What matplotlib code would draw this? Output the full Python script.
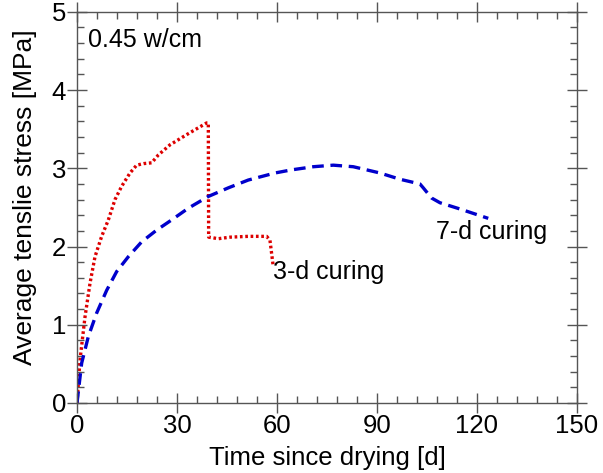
"""Average tensile stress vs. time since drying, 3-d and 7-d curing."""

import matplotlib
matplotlib.use("Agg")
import matplotlib.pyplot as plt
from matplotlib.ticker import MultipleLocator

plt.rcParams["font.family"] = ["Liberation Sans", "DejaVu Sans"]

# ---- data -----------------------------------------------------------
days_3d = [0, 0.4, 0.9, 2.4, 3.9, 5.4, 7.4, 9.4, 11.4, 13.4, 15.9, 17.9,
           20.0, 22.4, 24.4, 27.9, 32.9, 36.9, 38.9, 39.4, 39.5,
           42.4, 46.0, 51.4, 56.9, 57.9, 58.9]
stress_3d = [0.0, 0.25, 0.55, 1.10, 1.53, 1.87, 2.13, 2.34, 2.60, 2.77,
             2.94, 3.04, 3.06, 3.07, 3.17, 3.30, 3.43, 3.53, 3.58, 3.58,
             2.12, 2.10, 2.12, 2.13, 2.13, 2.08, 1.74]

days_7d = [0, 1.4, 3.4, 5.9, 8.9, 11.9, 15.4, 19.4, 23.9, 28.4, 33.4,
           39.4, 45.4, 51.4, 59.4, 64.4, 70.9, 76.9, 82.9, 90.9, 96.9,
           102.9, 103.9, 106.4, 108.9, 114.9, 123.4]
stress_7d = [0.0, 0.51, 0.85, 1.15, 1.44, 1.68, 1.87, 2.06, 2.21, 2.34,
             2.49, 2.64, 2.75, 2.85, 2.94, 2.98, 3.02, 3.04, 3.02, 2.94,
             2.86, 2.80, 2.75, 2.62, 2.56, 2.48, 2.36]

fig = plt.figure(figsize=(6.03, 4.73), dpi=100)
ax = fig.add_axes([0.1277, 0.148, 0.829, 0.827])

ax.plot(days_3d, stress_3d, color="#dd0000", lw=2.4, linestyle=(0, (0.8, 0.8)),
        dash_capstyle="butt")
ax.plot(days_7d, stress_7d, color="#0000cc", lw=2.4, linestyle=(0, (3.5, 2.0)),
        dash_capstyle="butt")

ax.text(58.8, 1.68, "3-d curing", fontsize=18, va="center", ha="left")
ax.text(107.7, 2.19, "7-d curing", fontsize=18, va="center", ha="left")
ax.text(3.3, 4.64, "0.45 w/cm", fontsize=18, va="center", ha="left")

ax.set_xlim(0, 150)
ax.set_ylim(0, 5)
ax.xaxis.set_major_locator(MultipleLocator(30))
ax.xaxis.set_minor_locator(MultipleLocator(6))
ax.yaxis.set_major_locator(MultipleLocator(1))
ax.yaxis.set_minor_locator(MultipleLocator(0.2))

ax.set_xlabel("Time since drying [d]", fontsize=18.5, labelpad=6)
ax.set_ylabel("Average tenslie stress [MPa]", fontsize=19)
ax.yaxis.set_label_coords(-0.08, 0.527)

for s in ax.spines.values():
    s.set_color("#555555")
    s.set_linewidth(1.0)
ax.tick_params(which="major", direction="inout", length=14, width=1.0,
               color="#555555", labelsize=18.5, top=True, right=True, pad=1)
ax.tick_params(which="minor", direction="in", length=5, width=1.0,
               color="#555555", top=True, right=True)

fig.savefig("out.png", dpi=100)
